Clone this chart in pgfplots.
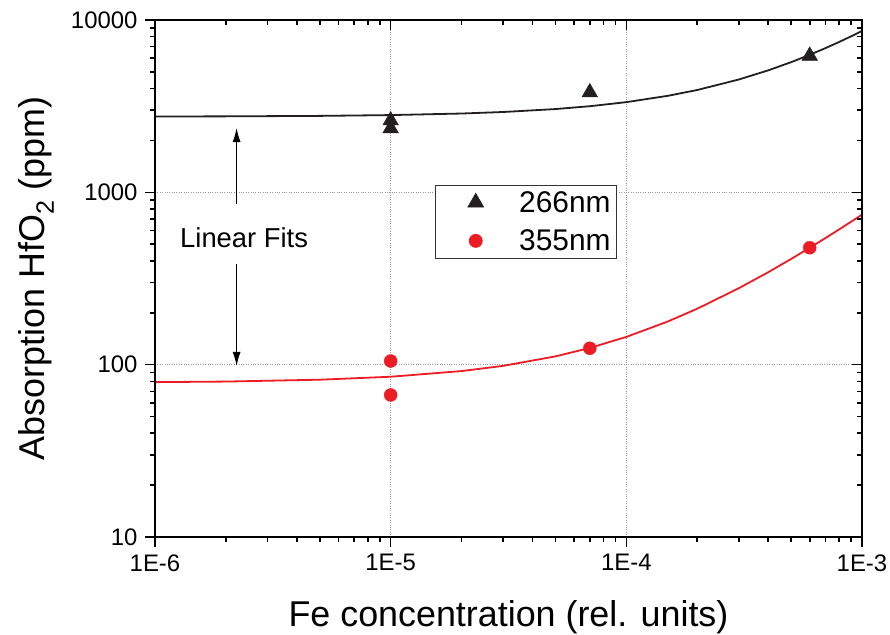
\documentclass[border=0pt]{standalone}
\usepackage{pgfplots}
\pgfplotsset{compat=1.18}
\usepackage{fontspec}
\setmainfont{Liberation Sans}
\usetikzlibrary{arrows.meta}

\definecolor{fitred}{RGB}{237,28,36}
\definecolor{mkblack}{RGB}{35,31,32}

\begin{document}
\begin{tikzpicture}
\path[use as bounding box] (-155bp,-98bp) rectangle (735bp,537bp);

% main axis: grid, data, bottom/left ticks pointing out
\begin{axis}[
    scale only axis,
    width=707bp, height=517bp,
    xmode=log, ymode=log,
    xmin=1e-6, xmax=1e-3,
    ymin=10, ymax=10000,
    xtick={1e-6,1e-5,1e-4,1e-3},
    xticklabels={1E-6,1E-5,1E-4,1E-3},
    ytick={10,100,1000,10000},
    yticklabels={10,100,1000,10000},
    xtick pos=bottom, ytick pos=left,
    tick align=outside,
    major tick length=10bp, minor tick length=5bp,
    every tick/.style={black, line width=1.6bp},
    axis line style={line width=1.8bp, black},
    grid=major,
    major grid style={dotted, gray!80, line width=1bp},
    tick label style={font=\fontsize{24}{28}\selectfont},
    xticklabel style={yshift=-4bp},
    yticklabel style={xshift=-4bp},
    xlabel={Fe concentration (rel. units)},
    ylabel={Absorption HfO\textsubscript{2} (ppm)},
    label style={font=\fontsize{36}{40}\selectfont},
    xlabel style={at={(axis description cs:0.5,-0.174)}, anchor=base},
    ylabel style={at={(axis description cs:-0.1556,0.5)}, anchor=base},
    legend style={at={(0.396,0.681)}, anchor=north west,
        draw=black!80, line width=0.8bp, fill=white,
        font=\fontsize{30}{34}\selectfont,
        inner xsep=6bp, inner ysep=5bp, row sep=14bp, column sep=0bp,
        nodes={inner xsep=0bp, inner ysep=1bp}},
    legend cell align=left,
    legend image code/.code={
        \path (0bp,0bp) (77bp,0bp);
        \draw[#1] plot coordinates {(34bp,0bp)};
    },
]

% linear fit, 266 nm
\addplot[mkblack, line width=1.8bp, forget plot] coordinates {
    (1e-6,2754) (2e-6,2760) (5e-6,2777) (1e-5,2807) (2e-5,2866)
    (3e-5,2925) (5e-5,3042) (7e-5,3160) (1e-4,3337) (1.5e-4,3631)
    (2e-4,3925) (3e-4,4514) (4e-4,5102) (5e-4,5690) (6e-4,6279)
    (7e-4,6868) (8e-4,7456) (9e-4,8045) (1e-3,8633)
};
% linear fit, 355 nm
\addplot[fitred, line width=1.8bp, forget plot] coordinates {
    (1e-6,79.2) (2e-6,79.8) (5e-6,81.8) (1e-5,85.1) (2e-5,91.8)
    (3e-5,98.4) (5e-5,111.7) (7e-5,125.0) (1e-4,144.9) (1.5e-4,178.0)
    (2e-4,211.2) (3e-4,277.6) (4e-4,343.9) (5e-4,410.3) (6e-4,476.6)
    (7e-4,543.0) (8e-4,609.3) (9e-4,675.7) (1e-3,742)
};

\addplot[only marks, mark=triangle*, mark size=9bp, mkblack] coordinates {
    (1e-5,2612) (1e-5,2352) (7e-5,3803) (6e-4,6198)
};
\addlegendentry{266nm}
\addplot[only marks, mark=*, mark size=6.5bp, fitred, draw=fitred] coordinates {
    (1e-5,105) (1e-5,66.7) (7e-5,124.5) (6e-4,477)
};
\addlegendentry{355nm}

\node[font=\fontsize{27.5}{30}\selectfont] at (axis cs:2.39e-6,547) {Linear Fits};
\draw[-{Latex[length=14bp,width=8bp]}, line width=1.1bp]
    (axis cs:2.22e-6,855) -- (axis cs:2.22e-6,2362);
\draw[-{Latex[length=14bp,width=8bp]}, line width=1.1bp]
    (axis cs:2.22e-6,383.5) -- (axis cs:2.22e-6,98.3);
\end{axis}

% mirror axis: top/right ticks pointing in
\begin{axis}[
    scale only axis,
    width=707bp, height=517bp,
    xmode=log, ymode=log,
    xmin=1e-6, xmax=1e-3,
    ymin=10, ymax=10000,
    xtick={1e-6,1e-5,1e-4,1e-3},
    ytick={10,100,1000,10000},
    xticklabels={}, yticklabels={},
    xtick pos=top, ytick pos=right,
    tick align=inside,
    major tick length=10bp, minor tick length=5bp,
    every tick/.style={black, line width=1.6bp},
    axis line style={line width=1.8bp, black},
]
\end{axis}
\end{tikzpicture}
\end{document}
